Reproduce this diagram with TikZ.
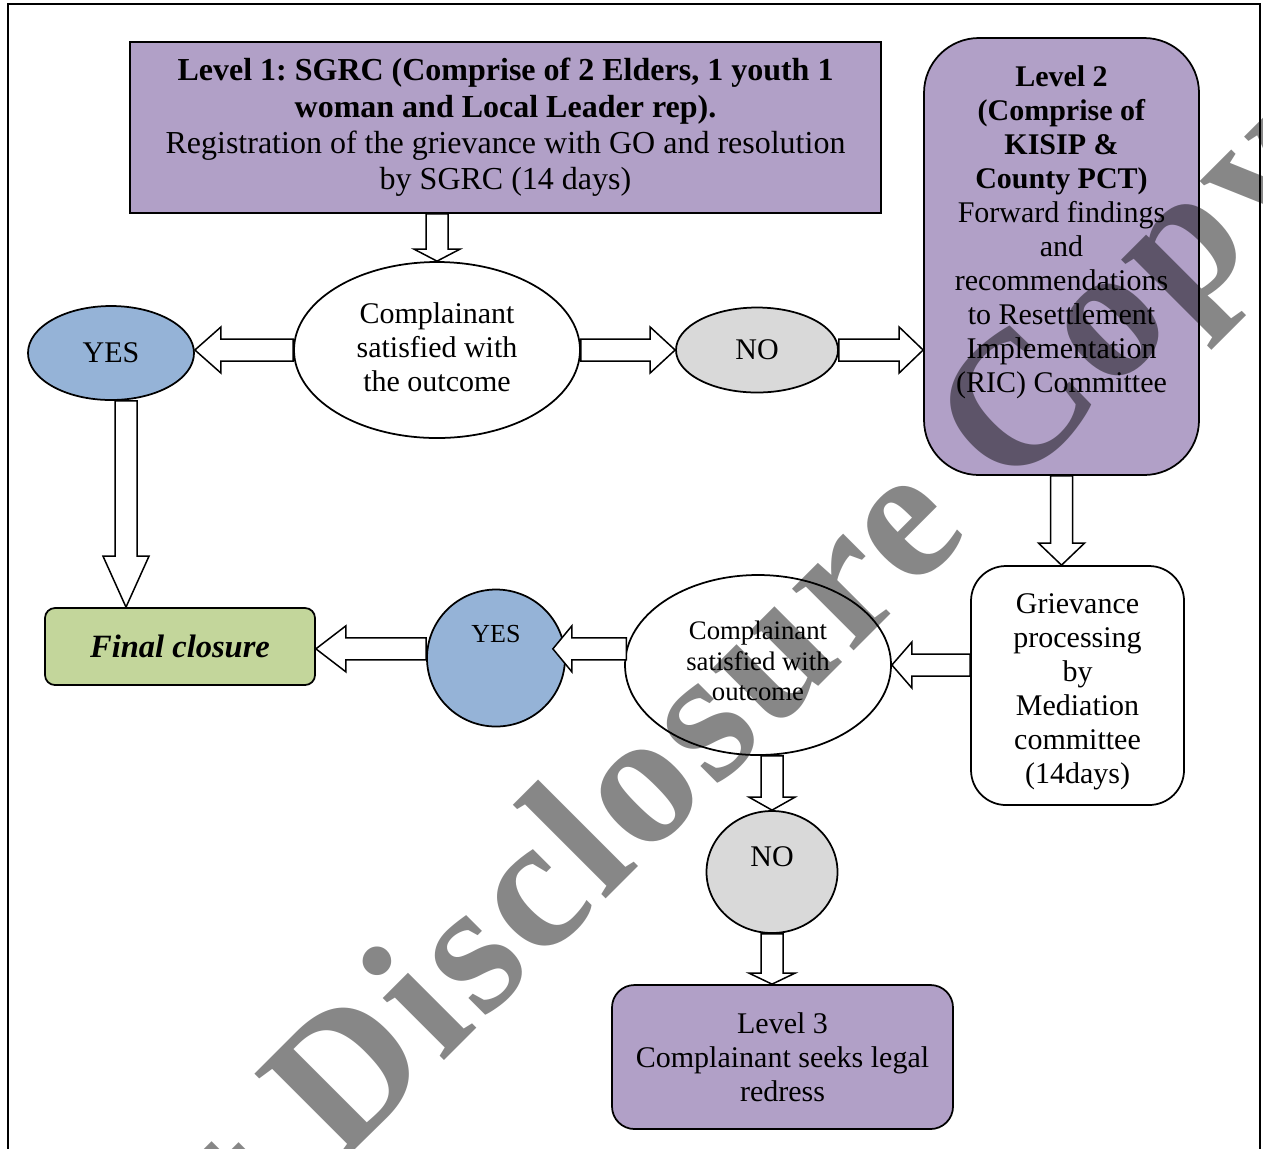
\documentclass[tikz,border=0pt]{standalone}
\usepackage{fontspec}
\setmainfont{Liberation Serif}
\newfontfamily\wmfont[LetterSpace=3]{Liberation Serif}
\usetikzlibrary{shapes.geometric,calc}
\frenchspacing
\definecolor{lvlpurple}{RGB}{177,160,199}
\definecolor{yesblue}{RGB}{149,179,215}
\definecolor{nogray}{RGB}{217,217,217}
\definecolor{endgreen}{RGB}{195,214,155}
\tikzset{box/.style={draw, line width=0.7pt, align=center, inner sep=0pt,
    font=\fontsize{12}{13.6}\selectfont},
  oval/.style={box, ellipse},
  hollow/.style={draw, fill=white, line width=0.6pt, line join=miter,
    to path={($(\tikztostart)!4.4pt!90:(\tikztotarget)$)
      -- ($(\tikztotarget)!#1!(\tikztostart)!4.4pt!90:(\tikztotarget)$)
      -- ($(\tikztotarget)!#1!(\tikztostart)!9.2pt!90:(\tikztotarget)$)
      -- (\tikztotarget)
      -- ($(\tikztotarget)!#1!(\tikztostart)!9.2pt!-90:(\tikztotarget)$)
      -- ($(\tikztotarget)!#1!(\tikztostart)!4.4pt!-90:(\tikztotarget)$)
      -- ($(\tikztostart)!4.4pt!-90:(\tikztotarget)$) -- cycle}},
  hollow/.default=10pt}

\begin{document}
\begin{tikzpicture}[x=0.4pt, y=-0.4pt]
        \useasboundingbox (0,0) rectangle (1263,1148);
        \draw[line width=0.8pt] (8,4) rectangle (1260,1170);

        \node[box, fill=lvlpurple, minimum width=300.4pt, minimum height=68.4pt,
              font=\fontsize{12.8}{14.5}\selectfont] (lvl1) at (505.5,127.5)
              {\textbf{Level 1: SGRC (Comprise of 2 Elders, 1 youth 1}\\
               \textbf{woman and Local Leader rep).}\\
               Registration of the grievance with GO and resolution\\
               by SGRC (14 days)};
        \node[oval, minimum width=114.4pt, minimum height=70.4pt] (e1) at (437,350)
              {Complainant\\ satisfied with\\ the outcome\\[-11.2pt]\mbox{}};
        \node[oval, fill=yesblue, minimum width=66.4pt, minimum height=37.6pt] (yes1) at (111,353) {YES};
        \node[oval, fill=nogray, minimum width=64.8pt, minimum height=34pt] (no1) at (757,350) {NO};
        \node[box, fill=lvlpurple, rounded corners=22pt, minimum width=110pt, minimum height=174.8pt]
              (lvl2) at (1061.5,256.5)
              {\textbf{Level 2}\\ \textbf{(Comprise of}\\ \textbf{KISIP \&}\\ \textbf{County PCT)}\\
               Forward findings\\ and\\ recommendations\\ to Resettlement\\ Implementation\\
               (RIC) Committee\\[8pt]\mbox{}};
        \node[box, rounded corners=14pt, minimum width=85.2pt, minimum height=95.6pt] (grv) at (1077.5,685.5)
              {\mbox{}\\[-0.8pt]Grievance\\ processing\\ by\\ Mediation\\ committee\\ (14days)};
        \node[oval, minimum width=106.4pt, minimum height=72pt, font=\fontsize{10.7}{12.2}\selectfont]
              (e2) at (758,665) {Complainant\\ satisfied with\\ outcome\\[-8.8pt]\mbox{}};
        \node[oval, fill=yesblue, minimum width=55.2pt, minimum height=54.8pt, font=\fontsize{10.4}{12}\selectfont]
              (yes2) at (496,658) {YES\\[7pt]\mbox{}};
        \node[oval, fill=nogray, minimum width=52.4pt, minimum height=48.8pt] (no2) at (772,872) {NO\\[-1.6pt]\mbox{}};
        \node[box, fill=endgreen, rounded corners=4pt, minimum width=108pt, minimum height=30.8pt,
              font=\fontsize{13}{15}\selectfont\bfseries\itshape] (fin) at (180,646.5) {Final closure};
        \node[box, fill=lvlpurple, rounded corners=9pt, minimum width=136.4pt, minimum height=57.6pt]
              (lvl3) at (782.5,1057) {Level 3\\ Complainant seeks legal\\ redress};

        % free ends of the offset arrows
        \coordinate (yesdrop) at ([xshift=6pt]yes1.south);
        \coordinate (yestip) at ($(e2.173 -| yes2.east)+(-5.2pt,0)$);

        \draw[hollow=4.8pt] (e1.north |- lvl1.south) to (e1.north);
        \draw[hollow=10.4pt] (e1.west) to (e1.west -| yes1.east);
        \draw[hollow=10pt] (e1.east) to (no1.west);
        \draw[hollow=9.6pt] (no1.east) to (no1.east -| lvl2.west);
        \draw[hollow=20.4pt] (yesdrop) to (yesdrop |- fin.north);
        \draw[hollow=8.8pt] (lvl2.south) to (lvl2.south |- grv.north);
        \draw[hollow=8pt] (grv.west |- e2.east) to (e2.east);
        \draw[hollow=7.6pt] (e2.173) to (yestip);
        \draw[hollow=12pt] (yes2.west |- yestip) to (fin.east |- yestip);
        \draw[hollow=5.2pt] (no2.north |- e2.south) to (no2.north);
        \draw[hollow=4.4pt] (no2.south) to (no2.south |- lvl3.north);

        \node[font=\wmfont\bfseries\fontsize{76}{76}\selectfont, text=black, text opacity=0.47,
              inner sep=0pt, anchor=base west, rotate=45] (wmark) at (258,1247) {t Disclosure Copy.};
    \end{tikzpicture}
\end{document}
